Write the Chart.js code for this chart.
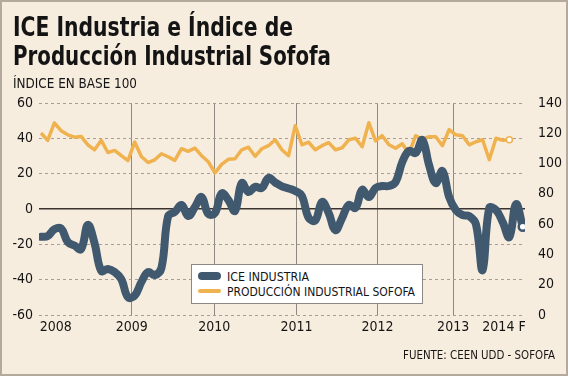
<!DOCTYPE html>
<html>
<head>
<meta charset="utf-8">
<script src="https://cdn.jsdelivr.net/npm/chart.js@4.4.1/dist/chart.umd.min.js"></script>
<style>
  html, body { margin: 0; padding: 0; background: #f7eddf; }
  #wrap { position: relative; width: 568px; height: 376px; background: #f7eddf; overflow: hidden; }
  #chart { position: absolute; left: 0; top: 0; }
  #frame { position: absolute; left: 0; top: 0; width: 568px; height: 376px; box-sizing: border-box;
           border: 2px solid #b5a99d; pointer-events: none; }
  .txt { position: absolute; white-space: nowrap; color: #141414; line-height: 1;
         font-family: "DejaVu Sans Condensed", "DejaVu Sans", sans-serif; transform-origin: 0 0; }
  #title1, #title2 { font-weight: bold; font-size: 26px; left: 13px; }
  #title1 { top: 14px; }
  #title2 { top: 43px; }
  #subtitle { font-size: 14px; left: 13px; top: 76px; }
  #footer { font-size: 13px; left: 403px; top: 348px; }
  #legend { position: absolute; left: 191px; top: 264px; width: 230px; height: 38px; background: #fff;
            border: 1px solid #8d8883; }
  .swatch { position: absolute; left: 6px; width: 23px; }
  #sw1 { top: 7px; height: 8px; border-radius: 4px; background: #41596f; }
  #sw2 { top: 24px; height: 4px; border-radius: 2px; background: #f0b24f; }
  .lg { font-size: 12.5px; left: 35px; }
  #lg1 { top: 6px; }
  #lg2 { top: 21px; }
</style>
</head>
<body>
<div id="wrap">
  <canvas id="chart" width="568" height="376"></canvas>
  <div id="title1" class="txt">ICE Industria e Índice de</div>
  <div id="title2" class="txt">Producción Industrial Sofofa</div>
  <div id="subtitle" class="txt">ÍNDICE EN BASE 100</div>
  <div id="legend">
    <div id="sw1" class="swatch"></div>
    <div id="lg1" class="txt lg">ICE INDUSTRIA</div>
    <div id="sw2" class="swatch"></div>
    <div id="lg2" class="txt lg">PRODUCCIÓN INDUSTRIAL SOFOFA</div>
  </div>
  <div id="footer" class="txt">FUENTE: CEEN UDD - SOFOFA</div>
  <div id="frame"></div>
</div>
<script>
// ICE Industria (left axis), one value per month
const iceIndustria = [-15.7, -15.3, -11.5, -11, -18.7, -20.7, -22.7, -9, -19.3, -35,
  -34, -35.7, -39.7, -50, -49, -41.4, -35.7, -37.4, -33.4, -4,
  -1.7, 2.3, -4, 1.1, 6.8, -2.8, -2.3, 8.8, 5.1, -1.1,
  14.7, 9.6, 12.5, 11.9, 17.6, 15, 12.8, 11.6, 10.2, 7.4,
  -5, -6.5, 4, -2.3, -12, -5.1, 2.3, 0.6, 10.8, 6.8,
  11.9, 13, 13, 15.3, 26.6, 32.9, 31.7, 39.1, 24.9, 14.7,
  21.5, 6.8, -0.6, -3.4, -4, -8.5, -34.6, 0.6, -0.6, -7.4,
  -15.9, 2.8, -10];

// Producción industrial Sofofa (right axis, base 100)
const prodSofofa = [120.2, 115.3, 126.8, 121.7, 119, 117.4, 117.9, 112.4, 109.1, 115.3,
  107.3, 108.7, 105.2, 102, 114.2, 104.7, 100.7, 102.5, 106.5, 104.5,
  102.1, 109.8, 108.1, 110.2, 105.2, 101.2, 93.9, 99.5, 102.8, 103.2,
  109.1, 110.8, 104.8, 109.8, 111.8, 115.7, 109.1, 105.2, 125, 112.4,
  114.1, 109.1, 111.8, 113.8, 109.1, 110.4, 115.7, 116.7, 111.1, 127,
  115, 118.4, 112.4, 110.1, 113.1, 106.5, 118.4, 116.1, 117.7, 117.7,
  111.8, 122.4, 119, 118.4, 112.4, 114.4, 115.7, 102.5, 116.7, 115.4,
  115.7];

const yearLabels = ['2008', '2009', '2010', '2011', '2012', '2013', '2014 F'];
// where each year label sits, in months from the first point
const yearTickIndex = [2.2, 13.56, 25.9, 38.2, 50.3, 61.6, 69.2];

const BLUE = '#41596f';
const ORANGE = '#f0b24f';
const FONT = '"DejaVu Sans Condensed", "DejaVu Sans", sans-serif';

// squeeze the html texts to the widths of the original
function fitWidth(id, target) {
  const el = document.getElementById(id);
  const w = el.getBoundingClientRect().width;
  el.style.transform = 'scaleX(' + (target / w) + ')';
}
fitWidth('title1', 280);
fitWidth('title2', 318);
fitWidth('subtitle', 124);
fitWidth('lg1', 82);
fitWidth('lg2', 188);
fitWidth('footer', 152);

const tickFont = { family: FONT, size: 14 };

new Chart(document.getElementById('chart'), {
  type: 'line',
  data: {
    datasets: [
      {
        label: 'ICE INDUSTRIA',
        data: iceIndustria.map((v, i) => ({ x: i, y: v })),
        yAxisID: 'y',
        borderColor: BLUE,
        borderWidth: 8,
        tension: 0.4,
        borderCapStyle: 'round',
        borderJoinStyle: 'round',
        pointRadius: ctx => ctx.dataIndex === iceIndustria.length - 1 ? 4 : 0,
        pointBackgroundColor: '#ffffff',
        pointBorderColor: BLUE,
        pointBorderWidth: 2.5,
        fill: false
      },
      {
        label: 'PRODUCCIÓN INDUSTRIAL SOFOFA',
        data: prodSofofa.map((v, i) => ({ x: i, y: v })),
        yAxisID: 'y2',
        borderColor: ORANGE,
        borderWidth: 3.5,
        tension: 0,
        borderJoinStyle: 'round',
        pointRadius: ctx => ctx.dataIndex === prodSofofa.length - 1 ? 3 : 0,
        pointBackgroundColor: '#ffffff',
        pointBorderColor: ORANGE,
        pointBorderWidth: 1.5,
        fill: false
      }
    ]
  },
  options: {
    responsive: false,
    animation: false,
    devicePixelRatio: 1,
    layout: { padding: { top: 103, left: 0, right: 0, bottom: 0 } },
    plugins: {
      legend: { display: false },
      tooltip: { enabled: false }
    },
    scales: {
      x: {
        type: 'linear',
        min: -0.3,
        max: 72.34,
        afterFit: s => { s.height = 61; },
        afterBuildTicks: s => { s.ticks = yearTickIndex.map(v => ({ value: v })); },
        ticks: {
          autoSkip: false,
          maxRotation: 0,
          padding: 4,
          color: '#141414',
          font: tickFont,
          callback: (v, i) => yearLabels[i]
        },
        grid: {
          drawTicks: false,
          color: ctx => (ctx.index === 0 || ctx.index === yearLabels.length - 1) ? 'rgba(0,0,0,0)' : '#8f8983',
          lineWidth: 1
        },
        border: { display: false }
      },
      y: {
        position: 'left',
        min: -60,
        max: 60,
        afterFit: s => { s.width = 39; },
        ticks: { stepSize: 20, padding: 6, color: '#141414', font: tickFont },
        grid: {
          drawTicks: false,
          color: ctx => ctx.tick && ctx.tick.value === 0 ? '#3a332e' : '#a49e97',
          lineWidth: ctx => ctx.tick && ctx.tick.value === 0 ? 1.5 : 1
        },
        border: {
          display: false,
          dash: ctx => ctx.tick && ctx.tick.value === 0 ? [] : [3, 3]
        }
      },
      y2: {
        position: 'right',
        min: 0,
        max: 140,
        afterFit: s => { s.width = 43; },
        ticks: { stepSize: 20, padding: 5, color: '#141414', font: tickFont },
        grid: { display: false },
        border: { display: false }
      }
    }
  }
});
</script>
</body>
</html>
